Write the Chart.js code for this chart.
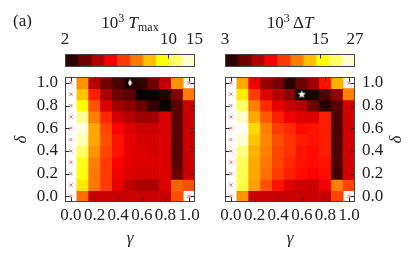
<!DOCTYPE html>
<html><head><meta charset="utf-8">
<script src="https://cdn.jsdelivr.net/npm/chart.js@4.4.0/dist/chart.umd.min.js"></script>
<style>
html,body{margin:0;padding:0;background:#fff;}
#wrap{position:relative;width:415px;height:257px;overflow:hidden;font-family:"Liberation Serif",serif;color:#222;}
canvas{position:absolute;}
.txt{position:absolute;white-space:nowrap;font-size:17px;line-height:17px;}
.ctr{text-align:center;}
.sup{font-size:12px;position:relative;top:-6px;}
.sub{font-size:12px;position:relative;top:3px;}
</style></head><body>
<div id="wrap">
<canvas id="cb1" width="207" height="70" style="left:0;top:0"></canvas>
<canvas id="cb2" width="208" height="70" style="left:207px;top:0"></canvas>
<canvas id="hm1" width="207" height="197" style="left:0;top:60px"></canvas>
<canvas id="hm2" width="208" height="197" style="left:207px;top:60px"></canvas>
<div class="txt" style="left:13px;top:12px;">(a)</div>
<div class="txt ctr" style="left:65px;width:130px;top:14px;">10<span class="sup">3</span> <i>T</i><span class="sub">max</span></div>
<div class="txt ctr" style="left:225px;width:130px;top:14px;">10<span class="sup">3</span> Δ<i>T</i></div>
</div>
<script>
// ---- data ----
const gammaLabels = ['0.0','0.1','0.2','0.3','0.4','0.5','0.6','0.7','0.8','0.9','1.0'];
const deltaValues = [1.0,0.9,0.8,0.7,0.6,0.5,0.4,0.3,0.2,0.1,0.0];
const yTickValues = [0.0,0.2,0.4,0.6,0.8,1.0];
const tmaxTicks = [2,10,15];
const dtTicks = [3,15,27];

// 10^3 T_max, one array per delta row (gamma 0.0 .. 1.0)
const tmaxD10 = [null, 6.5, 3.4, 2.7, 2.46, 2.12, 2.25, 2.7, 3.54, 6.5, null];
const tmaxD09 = [null, 7.55, 4.56, 3.23, 2.69, 2.54, 2.0, 2.0, 2.19, 2.86, 6.0];
const tmaxD08 = [null, 9.0, 5.29, 3.76, 3.13, 2.95, 2.69, 2.25, 2.0, 2.54, 3.54];
const tmaxD07 = [null, 12.1, 6.13, 4.7, 3.65, 3.33, 3.13, 3.13, 3.76, 2.54, 3.54];
const tmaxD06 = [null, 14.0, 6.9, 5.14, 4.2, 3.76, 3.54, 3.54, 3.76, 2.54, 3.54];
const tmaxD05 = [null, 12.9, 6.9, 5.29, 4.42, 3.87, 3.65, 3.65, 3.76, 2.54, 3.54];
const tmaxD04 = [null, 11.0, 6.5, 5.14, 4.42, 3.87, 3.76, 3.65, 3.76, 2.54, 3.54];
const tmaxD03 = [null, 9.5, 6.13, 4.98, 4.2, 3.87, 3.76, 3.76, 3.76, 2.54, 3.54];
const tmaxD02 = [null, 9.2, 5.95, 4.98, 3.99, 3.76, 3.65, 3.65, 3.76, 2.69, 3.54];
const tmaxD01 = [null, 8.4, 5.95, 4.98, 3.87, 3.43, 3.23, 3.23, 3.76, 5.61, 5.29];
const tmaxD00 = [null, 5.78, 3.54, 3.54, 3.54, 3.54, 3.54, 3.54, 3.54, 5.29, null];

// 10^3 ΔT, one array per delta row
const dtD10 = [null, 11.6, 6.38, 4.74, 4.29, 3.3, 4.15, 4.9, 7.13, 12.0, null];
const dtD09 = [null, 14.5, 8.11, 5.97, 5.23, 4.6, 3.0, 3.2, 3.77, 4.74, 10.2];
const dtD08 = [null, 19.3, 10.2, 7.62, 6.17, 5.59, 5.23, 4.15, 3.3, 3.9, 5.77];
const dtD07 = [null, 23.9, 11.6, 8.95, 7.37, 6.38, 5.97, 5.97, 7.37, 3.77, 5.77];
const dtD06 = [null, 26.5, 13.6, 10.2, 8.11, 7.62, 6.91, 7.13, 7.37, 3.77, 5.77];
const dtD05 = [null, 24.5, 12.8, 10.5, 8.67, 7.9, 7.37, 7.13, 7.37, 3.77, 5.77];
const dtD04 = [null, 20.5, 12.0, 10.2, 8.4, 7.9, 7.13, 6.91, 7.37, 3.77, 5.77];
const dtD03 = [null, 18.8, 11.6, 9.9, 8.4, 7.62, 7.13, 6.91, 7.13, 3.77, 5.77];
const dtD02 = [null, 18.4, 11.6, 9.6, 8.11, 7.37, 6.91, 6.6, 6.91, 3.65, 5.77];
const dtD01 = [null, 18.0, 11.3, 8.67, 7.13, 5.97, 5.59, 5.59, 6.38, 10.2, 8.4];
const dtD00 = [null, 10.9, 5.59, 5.59, 5.59, 5.59, 5.59, 5.59, 5.59, 8.4, null];

// missing cells (red crosses)
const crossGamma = ['0.0','0.0','0.0','0.0','0.0','0.0','0.0','0.0','0.0','0.0','0.0','1.0','1.0'];
const crossDelta = [0.0,0.1,0.2,0.3,0.4,0.5,0.6,0.7,0.8,0.9,1.0,1.0,0.0];
// optimum markers
const tmaxOptGamma = ['0.5']; const tmaxOptDelta = [1.0];
const dtOptGamma = ['0.6'];   const dtOptDelta = [0.9];

const tmaxRows = [tmaxD10,tmaxD09,tmaxD08,tmaxD07,tmaxD06,tmaxD05,tmaxD04,tmaxD03,tmaxD02,tmaxD01,tmaxD00];
const dtRows = [dtD10,dtD09,dtD08,dtD07,dtD06,dtD05,dtD04,dtD03,dtD02,dtD01,dtD00];

// ---- colormap ----
function hot(t){
  t = Math.max(0, Math.min(1, t));
  const a = 0.365079, b = 0.746032;
  const r = t < a ? 0.0416 + (1-0.0416)*t/a : 1;
  const g = t < a ? 0 : (t < b ? (t-a)/(b-a) : 1);
  const bl = t < b ? 0 : (t-b)/(1-b);
  return `rgb(${Math.round(r*255)},${Math.round(g*255)},${Math.round(bl*255)})`;
}
function colorFor(v, vmin, vmax){ return hot(Math.log(v/vmin)/Math.log(vmax/vmin)); }

const FONT = {family:'"Liberation Serif", serif', size:17};
const TXT = '#222';

function markerCanvas(kind){
  const c = document.createElement('canvas');
  const ctx = c.getContext('2d');
  if (kind === 'star'){
    c.width = 9; c.height = 9;
    ctx.fillStyle = '#fff'; ctx.beginPath();
    for (let i=0;i<10;i++){
      const r = i%2===0 ? 4.3 : 1.8;
      const ang = -Math.PI/2 + i*Math.PI/5;
      const x = 4.5 + r*Math.cos(ang), y = 4.7 + r*Math.sin(ang);
      i===0 ? ctx.moveTo(x,y) : ctx.lineTo(x,y);
    }
    ctx.closePath(); ctx.fill();
  } else {
    c.width = 5; c.height = 7;
    ctx.fillStyle = '#fff'; ctx.beginPath();
    ctx.moveTo(2.5,0); ctx.lineTo(4.5,3.5); ctx.lineTo(2.5,7); ctx.lineTo(0.5,3.5); ctx.closePath(); ctx.fill();
  }
  return c;
}

const framePlugin = {
  id: 'frame',
  afterDatasetsDraw(chart, args, opts){
    const {ctx, chartArea: a} = chart;
    const L = Math.round(a.left)+0.5, R = Math.round(a.right)-0.5, T = Math.round(a.top)+0.5, B = Math.round(a.bottom)-0.5;
    ctx.save();
    ctx.strokeStyle = '#444'; ctx.lineWidth = 1;
    ctx.strokeRect(L, T, R-L, B-T);
    ctx.strokeStyle = '#222';
    const len = 4;
    (opts.xTicks || []).forEach(v => {
      const x = Math.round(chart.scales.x.getPixelForValue(v)) + 0.5;
      ctx.beginPath();
      if (opts.xTop !== false){ ctx.moveTo(x, T); ctx.lineTo(x, T+len); }
      if (opts.xBottom !== false){ ctx.moveTo(x, B); ctx.lineTo(x, B-len); }
      ctx.stroke();
    });
    (opts.yTicks || []).forEach(v => {
      const y = Math.round(chart.scales.y.getPixelForValue(v)) + 0.5;
      ctx.beginPath();
      ctx.moveTo(L, y); ctx.lineTo(L+len, y);
      ctx.moveTo(R, y); ctx.lineTo(R-len, y);
      ctx.stroke();
    });
    // rotated axis label drawn counter-clockwise (used for the right-hand δ)
    if (opts.sideLabel){
      ctx.save();
      ctx.fillStyle = TXT;
      ctx.font = `italic ${FONT.size}px ${FONT.family}`;
      ctx.textAlign = 'center'; ctx.textBaseline = 'middle';
      ctx.translate(opts.sideLabelX, (a.top + a.bottom)/2);
      ctx.rotate(-Math.PI/2);
      ctx.fillText(opts.sideLabel, 0, 0);
      ctx.restore();
    }
    ctx.restore();
  }
};

function colorbar(id, vmin, vmax, ticks, padL, padR){
  const nSeg = 10;
  const datasets = [];
  for (let i=0;i<nSeg;i++){
    const lo = vmin*Math.pow(vmax/vmin, i/nSeg), hi = vmin*Math.pow(vmax/vmin, (i+1)/nSeg);
    datasets.push({data:[[lo,hi]], backgroundColor: hot((i+0.5)/nSeg), borderWidth:0,
      barPercentage:1, categoryPercentage:1});
  }
  new Chart(document.getElementById(id), {
    type:'bar',
    data:{labels:['cb'], datasets},
    options:{
      indexAxis:'y', responsive:false, animation:false, devicePixelRatio:1,
      layout:{padding:{left:padL, right:padR, top:0, bottom:3}},
      plugins:{legend:{display:false}, tooltip:{enabled:false}, frame:{xTicks: ticks.slice(1,-1), xBottom:false}},
      scales:{
        x:{type:'logarithmic', position:'top', min:vmin, max:vmax,
           afterBuildTicks: s => { s.ticks = ticks.map(v => ({value:v})); },
           afterFit: s => { s.height = 54; },
           ticks:{font:FONT, color:TXT, padding:4, maxRotation:0, autoSkip:false, callback: v => String(v)},
           grid:{display:false, drawTicks:false}, border:{display:false}},
        y:{display:false, stacked:true}
      }
    },
    plugins:[framePlugin]
  });
}

function heatmap(id, rows, vmin, vmax, side, optGamma, optDelta, optStyle){
  const datasets = rows.map((row, ri) => ({
    type:'bar', order:2,
    data: row.map(v => v == null ? null : [deltaValues[ri]-0.05, deltaValues[ri]+0.05]),
    backgroundColor: row.map(v => v == null ? 'rgba(0,0,0,0)' : colorFor(v, vmin, vmax)),
    borderWidth:0, barPercentage:1, categoryPercentage:1
  }));
  datasets.unshift({
    type:'line', order:0, showLine:false,
    data: optGamma.map((g,i) => ({x:g, y:optDelta[i]})),
    pointStyle: markerCanvas(optStyle), pointRadius:4
  });
  datasets.unshift({
    type:'line', order:0, showLine:false,
    data: crossGamma.map((g,i) => ({x:g, y:crossDelta[i]})),
    pointStyle:'crossRot', pointRadius:2.3, borderColor:'#f06a6a', backgroundColor:'#f06a6a', borderWidth:1
  });
  const isLeft = side === 'left';
  new Chart(document.getElementById(id), {
    type:'bar',
    data:{labels:gammaLabels, datasets},
    options:{
      responsive:false, animation:false, devicePixelRatio:1,
      layout:{padding: isLeft ? {left:0, right:12, top:12, bottom:0} : {left:18, right:0, top:12, bottom:0}},
      plugins:{legend:{display:false}, tooltip:{enabled:false},
        frame:{xTicks:[0,2,4,6,8,10], yTicks: yTickValues, sideLabel: isLeft ? null : 'δ', sideLabelX: 190}},
      scales:{
        x:{type:'category', stacked:true, offset:true,
           afterFit: s => { s.height = 55; },
           ticks:{font:FONT, color:TXT, padding:3, maxRotation:0, autoSkip:false,
                  callback:(v,i) => i%2===0 ? gammaLabels[i] : ''},
           grid:{display:false, drawTicks:false}, border:{display:false},
           title:{display:true, text:'γ', font:{...FONT, style:'italic'}, color:TXT, padding:{top:0,bottom:8}}},
        y:{type:'linear', position: side, min:-0.05, max:1.05, stacked:false,
           afterBuildTicks: s => { s.ticks = yTickValues.map(v => ({value:v})); },
           afterFit: s => { s.width = isLeft ? 65 : 60; },
           ticks:{font:FONT, color:TXT, padding:7, callback: v => Number(v).toFixed(1)},
           grid:{display:false, drawTicks:false}, border:{display:false},
           title:{display: isLeft, text:'δ', font:{...FONT, style:'italic'}, color:TXT, padding:{top:11, bottom:0}}}
      }
    },
    plugins:[framePlugin]
  });
}

colorbar('cb1', 2, 15, tmaxTicks, 65, 12);
colorbar('cb2', 3, 27, dtTicks, 18, 60);
heatmap('hm1', tmaxRows, 2, 15, 'left', tmaxOptGamma, tmaxOptDelta, 'diamond');
heatmap('hm2', dtRows, 3, 27, 'right', dtOptGamma, dtOptDelta, 'star');
</script>
</body></html>
